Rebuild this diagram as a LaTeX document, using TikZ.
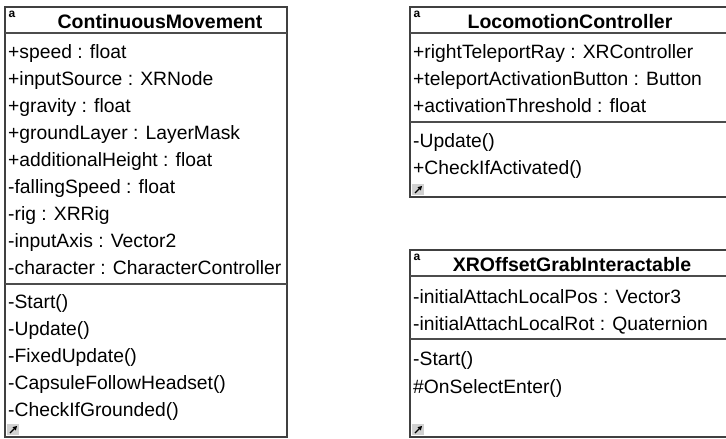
\documentclass[tikz,border=0pt]{standalone}
\usepackage{fontspec}
\setmainfont{Liberation Sans}
\usetikzlibrary{arrows.meta}

\tikzset{
  frame/.style={draw=black!75, line width=1.3pt},
  sepline/.style={draw=black!70, line width=1.3pt},
  member/.style={anchor=base west, inner sep=0pt, font=\fontsize{19.3}{22}\selectfont},
  classname/.style={anchor=base, inner sep=0pt, font=\fontsize{19.5}{22}\selectfont\bfseries},
  kindmark/.style={anchor=center, inner sep=0pt, font=\fontsize{12}{12}\selectfont\bfseries},
  expandmark/.style={-{Triangle[length=4pt,width=4.5pt]}, line width=1.4pt, black}
}

% one class frame with its small corner marks:
% #1 left, #2 top, #3 right, #4 bottom, #5 name prefix
\newcommand{\classframe}[5]{%
  \draw[frame] (#1,#2) rectangle (#3,#4);
  \node[kindmark] (#5mark) at (#1+7,#2+7) {a};
  \fill[black!18] (#1+2,#4-13) rectangle (#1+14,#4-2);
  \coordinate (#5tail) at (#1+5,#4-4);
  \coordinate (#5head) at (#1+12,#4-11);
  \draw[expandmark] (#5tail) -- (#5head);
}

\begin{document}
\begin{tikzpicture}[x=1pt,y=-1pt]
\useasboundingbox (0,0) rectangle (726,439);
\clip (0,0) rectangle (726,439);
\fill[white] (0,0) rectangle (726,439);

% ---------------- ContinuousMovement ----------------
\classframe{5}{7}{287}{437}{cm}
\draw[sepline] (5,33) -- (287,33);
\draw[sepline] (5,284) -- (287,284);
\node[classname] (cmname) at (160,28) {ContinuousMovement};
\node[member] (cma1) at (8,58)  {+speed : float};
\node[member] (cma2) at (8,85)  {+inputSource : XRNode};
\node[member] (cma3) at (8,112) {+gravity : float};
\node[member] (cma4) at (8,139) {+groundLayer : LayerMask};
\node[member] (cma5) at (8,166) {+additionalHeight : float};
\node[member] (cma6) at (8,193) {-fallingSpeed : float};
\node[member] (cma7) at (8,220) {-rig : XRRig};
\node[member] (cma8) at (8,247) {-inputAxis : Vector2};
\node[member] (cma9) at (8,274) {-character : CharacterController};
\node[member] (cmm1) at (8,308) {-Start()};
\node[member] (cmm2) at (8,335) {-Update()};
\node[member] (cmm3) at (8,362) {-FixedUpdate()};
\node[member] (cmm4) at (8,389) {-CapsuleFollowHeadset()};
\node[member] (cmm5) at (8,416) {-CheckIfGrounded()};

% ---------------- LocomotionController ----------------
\classframe{410}{7}{740}{197}{lc}
\draw[sepline] (410,33) -- (740,33);
\draw[sepline] (410,122) -- (740,122);
\node[classname] (lcname) at (570,28) {LocomotionController};
\node[member] (lca1) at (413,58)  {+rightTeleportRay : XRController};
\node[member] (lca2) at (413,85)  {+teleportActivationButton : Button};
\node[member] (lca3) at (413,112) {+activationThreshold : float};
\node[member] (lcm1) at (413,147) {-Update()};
\node[member] (lcm2) at (413,174) {+CheckIfActivated()};

% ---------------- XROffsetGrabInteractable ----------------
\classframe{410}{250}{740}{437}{xo}
\draw[sepline] (410,276) -- (740,276);
\draw[sepline] (410,339) -- (740,339);
\node[classname] (xoname) at (572,271) {XROffsetGrabInteractable};
\node[member] (xoa1) at (413,303) {-initialAttachLocalPos : Vector3};
\node[member] (xoa2) at (413,330) {-initialAttachLocalRot : Quaternion};
\node[member] (xom1) at (413,365) {-Start()};
\node[member] (xom2) at (413,393) {\#OnSelectEnter()};
\end{tikzpicture}
\end{document}
